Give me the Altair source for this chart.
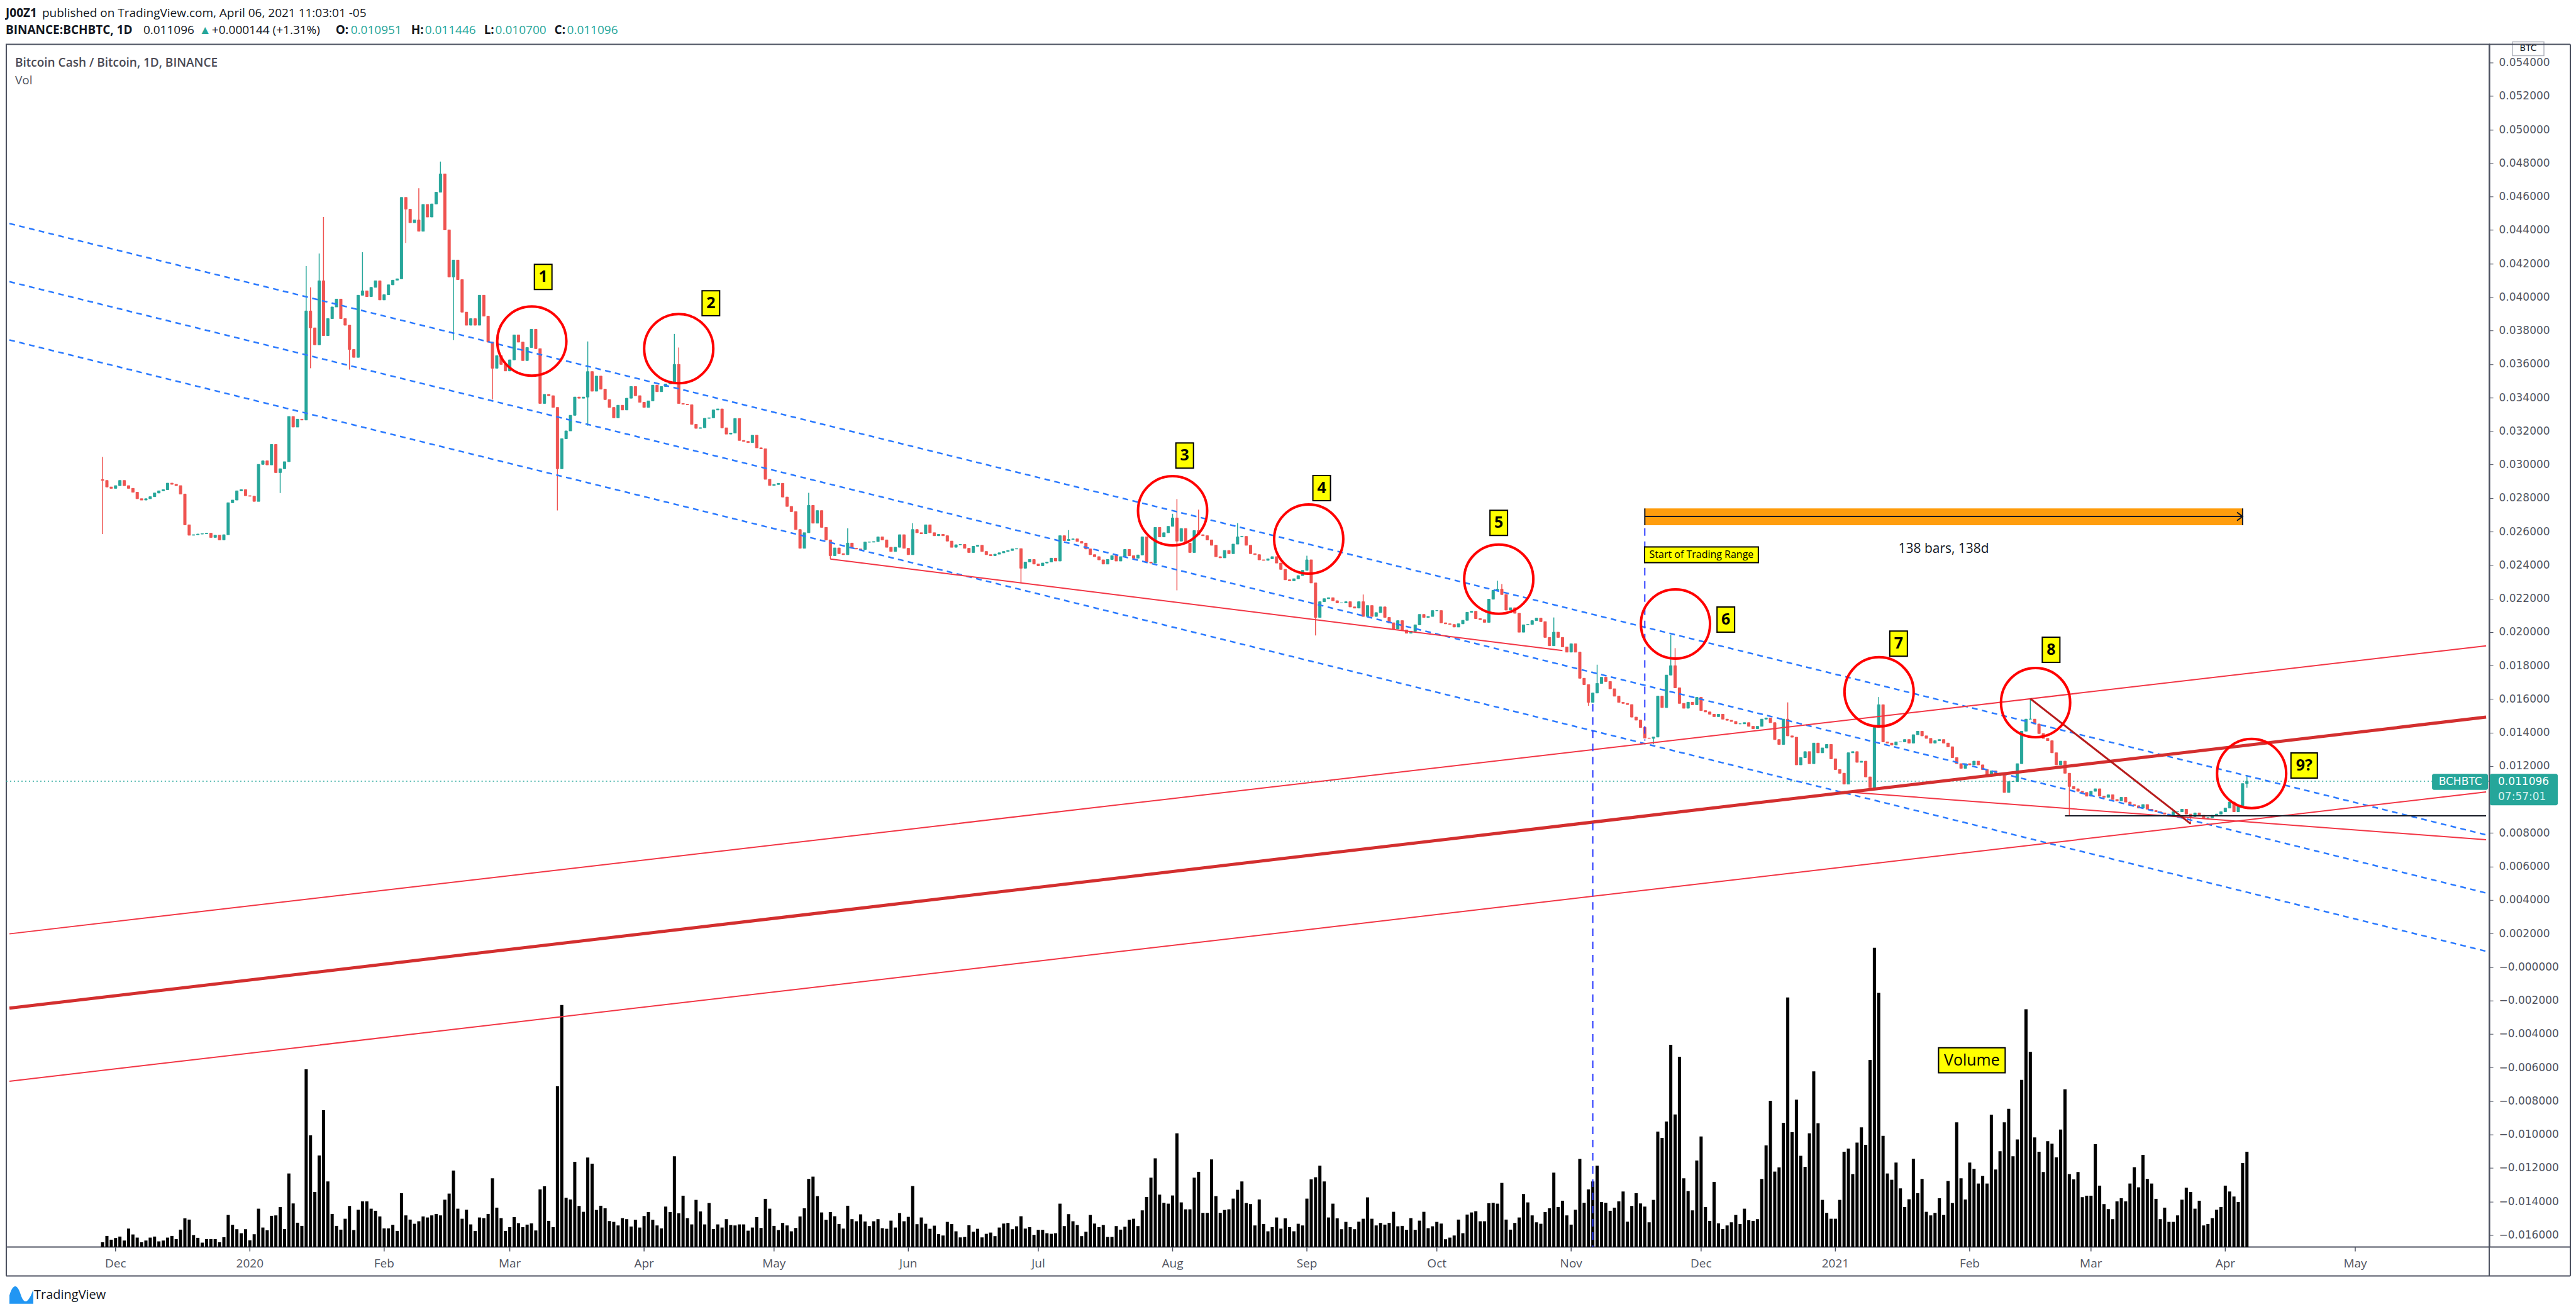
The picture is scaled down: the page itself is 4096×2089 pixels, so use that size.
import altair as alt
import pandas as pd

# ---------------------------------------------------------------- data
FIRST_DAY = "2019-11-28"
first_open = 0.02910

close_dec19 = [0.02905, 0.02866, 0.02858, 0.02874, 0.02905, 0.02874, 0.02858, 0.02835, 0.02796, 0.02788,
               0.02796, 0.02808, 0.02830, 0.02843, 0.02850, 0.02889, 0.02882, 0.02874, 0.02824, 0.02640,
               0.02578, 0.02581, 0.02585, 0.02587, 0.02590, 0.02565, 0.02578, 0.02550, 0.02581, 0.02772,
               0.02788, 0.02843, 0.02850, 0.02814]
close_jan20 = [0.02811, 0.02780, 0.03001, 0.03022, 0.02998, 0.03120, 0.02952, 0.02975, 0.03017, 0.03287,
               0.03224, 0.03271, 0.03266, 0.03917, 0.03816, 0.03715, 0.04097, 0.03770, 0.03871, 0.03941,
               0.03988, 0.03871, 0.03832, 0.03687, 0.03640, 0.04011, 0.04037, 0.04003, 0.04058, 0.04097,
               0.03983]
close_feb20 = [0.04014, 0.04073, 0.04101, 0.04109, 0.04595, 0.04525, 0.04444, 0.04460, 0.04393, 0.04553,
               0.04478, 0.04556, 0.04626, 0.04735, 0.04401, 0.04120, 0.04221, 0.04104, 0.03910, 0.03832,
               0.03871, 0.03832, 0.04011, 0.03886, 0.03731, 0.03575, 0.03650, 0.03598, 0.03559]
close_mar20 = [0.03625, 0.03774, 0.03731, 0.03621, 0.03699, 0.03808, 0.03692, 0.03365, 0.03419, 0.03411,
               0.03341, 0.02975, 0.03154, 0.03201, 0.03294, 0.03403, 0.03396, 0.03403, 0.03555, 0.03438,
               0.03528, 0.03450, 0.03388, 0.03341, 0.03279, 0.03354, 0.03326, 0.03396, 0.03466, 0.03411,
               0.03372]
close_apr20 = [0.03341, 0.03380, 0.03474, 0.03435, 0.03466, 0.03481, 0.03489, 0.03598, 0.03365, 0.03360,
               0.03357, 0.03240, 0.03216, 0.03220, 0.03276, 0.03279, 0.03326, 0.03332, 0.03219, 0.03182,
               0.03188, 0.03275, 0.03144, 0.03138, 0.03131, 0.03175, 0.03100, 0.03094, 0.02912, 0.02875]
close_may20 = [0.02881, 0.02888, 0.02806, 0.02750, 0.02719, 0.02612, 0.02500, 0.02593, 0.02756, 0.02650,
               0.02725, 0.02625, 0.02550, 0.02456, 0.02502, 0.02468, 0.02462, 0.02531, 0.02500, 0.02496,
               0.02493, 0.02537, 0.02537, 0.02540, 0.02568, 0.02550, 0.02506, 0.02481, 0.02506, 0.02581,
               0.02500]
close_jun20 = [0.02462, 0.02612, 0.02593, 0.02587, 0.02640, 0.02593, 0.02575, 0.02583, 0.02575, 0.02543,
               0.02506, 0.02521, 0.02523, 0.02500, 0.02475, 0.02512, 0.02518, 0.02481, 0.02462, 0.02456,
               0.02465, 0.02473, 0.02481, 0.02487, 0.02496, 0.02498, 0.02381, 0.02418, 0.02433, 0.02406]
close_jul20 = [0.02396, 0.02412, 0.02418, 0.02441, 0.02424, 0.02575, 0.02546, 0.02553, 0.02556, 0.02541,
               0.02531, 0.02496, 0.02462, 0.02450, 0.02431, 0.02406, 0.02433, 0.02456, 0.02424, 0.02450,
               0.02493, 0.02456, 0.02441, 0.02460, 0.02568, 0.02418, 0.02412, 0.02625, 0.02568, 0.02593,
               0.02631]
close_aug20 = [0.02681, 0.02543, 0.02618, 0.02531, 0.02475, 0.02606, 0.02581, 0.02575, 0.02550, 0.02518,
               0.02450, 0.02443, 0.02487, 0.02468, 0.02525, 0.02568, 0.02571, 0.02518, 0.02468, 0.02462,
               0.02431, 0.02428, 0.02437, 0.02450, 0.02412, 0.02374, 0.02312, 0.02306, 0.02318, 0.02337,
               0.02368]
close_sep20 = [0.02431, 0.02293, 0.02087, 0.02181, 0.02199, 0.02205, 0.02187, 0.02174, 0.02174, 0.02181,
               0.02150, 0.02143, 0.02181, 0.02093, 0.02158, 0.02093, 0.02116, 0.02150, 0.02087, 0.02055,
               0.02018, 0.02068, 0.02012, 0.01993, 0.02005, 0.02043, 0.02105, 0.02087, 0.02093, 0.02128]
close_oct20 = [0.02128, 0.02055, 0.02049, 0.02045, 0.02030, 0.02049, 0.02070, 0.02118, 0.02124, 0.02080,
               0.02074, 0.02058, 0.02196, 0.02249, 0.02256, 0.02224, 0.02131, 0.02145, 0.02112, 0.01999,
               0.02043, 0.02045, 0.02068, 0.02083, 0.02062, 0.01968, 0.01918, 0.01999, 0.01968, 0.01911,
               0.01880]
close_nov20 = [0.01930, 0.01880, 0.01724, 0.01686, 0.01580, 0.01636, 0.01693, 0.01730, 0.01705, 0.01661,
               0.01617, 0.01580, 0.01574, 0.01567, 0.01492, 0.01474, 0.01430, 0.01367, 0.01365, 0.01373,
               0.01617, 0.01549, 0.01743, 0.01799, 0.01667, 0.01574, 0.01545, 0.01581, 0.01566, 0.01610]
close_dec20 = [0.01531, 0.01523, 0.01509, 0.01495, 0.01509, 0.01480, 0.01473, 0.01466, 0.01452, 0.01452,
               0.01459, 0.01437, 0.01423, 0.01437, 0.01480, 0.01487, 0.01459, 0.01358, 0.01329, 0.01480,
               0.01380, 0.01372, 0.01207, 0.01250, 0.01286, 0.01214, 0.01337, 0.01279, 0.01308, 0.01329,
               0.01243]
close_jan21 = [0.01179, 0.01157, 0.01092, 0.01279, 0.01286, 0.01222, 0.01229, 0.01135, 0.01071, 0.01430,
               0.01566, 0.01344, 0.01337, 0.01325, 0.01344, 0.01344, 0.01358, 0.01337, 0.01387, 0.01408,
               0.01380, 0.01365, 0.01337, 0.01351, 0.01358, 0.01337, 0.01315, 0.01250, 0.01214, 0.01186,
               0.01214]
close_feb21 = [0.01207, 0.01229, 0.01207, 0.01179, 0.01143, 0.01171, 0.01143, 0.01157, 0.01042, 0.01107,
               0.01107, 0.01214, 0.01408, 0.01480, 0.01480, 0.01451, 0.01394, 0.01365, 0.01351, 0.01279,
               0.01207, 0.01229, 0.01157, 0.01078, 0.01064, 0.01049, 0.01042, 0.01020]
close_mar21 = [0.01049, 0.01064, 0.01020, 0.01013, 0.01028, 0.01000, 0.00992, 0.01013, 0.00985, 0.00970,
               0.00963, 0.00949, 0.00970, 0.00942, 0.00934, 0.00927, 0.00920, 0.00913, 0.00906, 0.00927,
               0.00927, 0.00942, 0.00913, 0.00898, 0.00920, 0.00906, 0.00891, 0.00891, 0.00906, 0.00913,
               0.00927]
close_apr21 = [0.00949, 0.00985, 0.00927, 0.00963, 0.01095, 0.011096]

closes = (close_dec19 + close_jan20 + close_feb20 + close_mar20 + close_apr20 + close_may20 +
          close_jun20 + close_jul20 + close_aug20 + close_sep20 + close_oct20 + close_nov20 +
          close_dec20 + close_jan21 + close_feb21 + close_mar21 + close_apr21)

# wick extremes (bar index -> price); other bars show no visible wick
high_wicks = {0: 0.03045, 47: 0.04185, 48: 0.04058, 50: 0.04260, 51: 0.04478, 60: 0.04268,
              73: 0.04650, 78: 0.04809, 112: 0.03735, 132: 0.03780, 133: 0.03699, 163: 0.02831,
              172: 0.02619, 187: 0.02650, 223: 0.02609, 247: 0.02706, 248: 0.02794, 253: 0.02731,
              262: 0.02650, 278: 0.02456, 291: 0.02224, 322: 0.02306, 323: 0.02287, 335: 0.02087,
              345: 0.01805, 362: 0.01983, 363: 0.01904, 389: 0.01580, 410: 0.01612, 445: 0.01598,
              495: 0.011446}
low_wicks = {0: 0.02585, 41: 0.02830, 48: 0.03575, 57: 0.03567, 70: 0.04323, 81: 0.03743,
             90: 0.03388, 105: 0.02726, 112: 0.03232, 168: 0.02436, 212: 0.02291, 248: 0.02249,
             280: 0.01980, 343: 0.01560, 358: 0.01330, 454: 0.00906, 482: 0.00855, 495: 0.010700}

vol_a = [23, 53, 35, 43, 50, 31, 88, 60, 45, 23, 31, 45, 50, 27, 31, 45, 53, 38, 83, 137,
         131, 57, 44, 21, 38, 38, 38, 23, 47, 153, 106, 85, 66, 85, 32, 61, 183, 93, 80, 149,
         151, 191, 86, 351, 208, 116, 101, 848, 533, 263, 437, 653, 313, 158, 101, 83, 135, 196, 81, 178,
         218, 218, 183, 173, 146, 89, 89, 106, 77, 257, 151, 131, 111, 123, 146, 141, 151, 158, 151, 226,
         255, 365, 183, 135, 178, 108, 77, 141, 138, 158, 328, 188, 138, 77, 95, 143, 114, 95, 107, 113]
vol_b = [79, 275, 290, 125, 95, 767, 1155, 235, 227, 407, 196, 168, 427, 398, 177, 197, 185, 124, 120, 103,
         138, 133, 98, 130, 93, 148, 167, 130, 103, 89, 193, 167, 433, 161, 245, 138, 108, 225, 170, 108,
         210, 86, 108, 93, 133, 105, 103, 108, 108, 78, 93, 143, 91, 230, 183, 101, 81, 115, 103, 75,
         91, 146, 185, 325, 336, 243, 165, 130, 167, 147, 110, 88, 197, 133, 123, 156, 122, 100, 123, 133,
         90, 87, 126, 93, 162, 123, 144, 291, 109, 141, 111, 87, 102, 62, 55, 120, 110, 75, 46, 48]
vol_c = [104, 73, 87, 46, 63, 69, 52, 93, 112, 115, 85, 99, 147, 88, 95, 58, 82, 82, 66, 63,
         66, 207, 100, 157, 123, 105, 52, 73, 153, 112, 95, 105, 48, 48, 100, 83, 97, 130, 135, 100,
         175, 239, 331, 423, 250, 211, 207, 246, 543, 213, 180, 180, 331, 359, 163, 163, 418, 243, 163, 177,
         180, 231, 273, 313, 210, 205, 103, 227, 110, 75, 95, 141, 88, 137, 95, 75, 111, 103, 231, 323,
         333, 388, 313, 141, 207, 137, 85, 120, 95, 85, 121, 135, 237, 135, 103, 115, 107, 115, 168, 99]
vol_d = [101, 82, 138, 82, 126, 168, 90, 99, 120, 112, 37, 45, 55, 131, 66, 155, 165, 171, 123, 123,
         209, 211, 207, 306, 131, 83, 115, 141, 253, 213, 151, 118, 111, 167, 185, 355, 191, 221, 151, 107,
         178, 420, 211, 275, 313, 388, 215, 211, 173, 188, 218, 265, 121, 196, 257, 208, 193, 118, 225, 551,
         521, 599, 965, 633, 908, 328, 267, 175, 413, 528, 191, 125, 311, 113, 86, 103, 118, 153, 110, 183,
         128, 125, 133, 325, 485, 698, 360, 380, 593, 1191, 548, 703, 435, 383, 543, 838, 591, 225, 163, 135]
vol_e = [135, 225, 455, 470, 348, 498, 571, 488, 893, 1428, 1213, 531, 351, 321, 403, 280, 191, 228, 421, 257,
         325, 168, 151, 163, 233, 153, 315, 210, 595, 328, 227, 403, 373, 303, 339, 303, 631, 370, 457, 595,
         660, 433, 513, 798, 1135, 931, 523, 455, 358, 505, 493, 428, 561, 753, 348, 323, 358, 238, 245, 245,
         491, 293, 205, 181, 133, 218, 233, 218, 303, 381, 285, 440, 325, 303, 230, 133, 188, 120, 120, 151,
         226, 283, 263, 183, 221, 103, 110, 138, 178, 191, 293, 265, 241, 215, 401, 455]
volumes = vol_a + vol_b + vol_c + vol_d + vol_e

price_ticks = [-0.016, -0.014, -0.012, -0.010, -0.008, -0.006, -0.004, -0.002, 0.0,
               0.002, 0.004, 0.006, 0.008, 0.010, 0.012, 0.014, 0.016, 0.018, 0.020,
               0.022, 0.024, 0.026, 0.028, 0.030, 0.032, 0.034, 0.036, 0.038, 0.040,
               0.042, 0.044, 0.046, 0.048, 0.050, 0.052, 0.054]
month_dates = ["2019-12-01", "2020-01-01", "2020-02-01", "2020-03-01", "2020-04-01", "2020-05-01",
               "2020-06-01", "2020-07-01", "2020-08-01", "2020-09-01", "2020-10-01", "2020-11-01",
               "2020-12-01", "2021-01-01", "2021-02-01", "2021-03-01", "2021-04-01", "2021-05-01"]
month_labels = ["Dec", "2020", "Feb", "Mar", "Apr", "May", "Jun", "Jul", "Aug", "Sep", "Oct", "Nov",
                "Dec", "2021", "Feb", "Mar", "Apr", "May"]

# drawings (date, price) endpoints
EDGE_L = "2019-11-06T12:00:00Z"
EDGE_R = "2021-05-31T05:00:00Z"
channel_ids = ["top", "mid", "low"]
channel_left = [0.04439, 0.04092, 0.03744]
channel_right = [0.00789, 0.00442, 0.00094]

thin_ids = ["A", "A", "B", "B", "D", "D", "E", "E"]
thin_dates = ["2020-05-14", "2020-10-30", "2021-01-03", EDGE_R, EDGE_L, EDGE_R, EDGE_L, EDGE_R]
thin_prices = [0.02436, 0.01889, 0.01046, 0.00760, 0.00198, 0.01918, -0.00682, 0.01045]
thick_dates = [EDGE_L, EDGE_R]
thick_prices = [-0.00246, 0.01492]
steep_dates = ["2021-02-15", "2021-03-24"]
steep_prices = [0.01602, 0.00855]
support_dates = ["2021-02-23", EDGE_R]
support_prices = [0.00903, 0.00903]

vline_dates = ["2020-11-06", "2020-11-18"]
vline_top = [0.01570, 0.02620]
vline_bottom = [-0.01672, 0.01351]

range_start, range_end = "2020-11-18", "2021-04-05"
range_top, range_bottom, range_mid = 0.02738, 0.02638, 0.02690
arrow_dates = ["2021-04-03T17:00:00Z", "2021-04-05", "2021-04-03T17:00:00Z"]
arrow_prices = [0.02715, 0.02690, 0.02665]

circle_dates = ["2020-03-06T02:00:00Z", "2020-04-09", "2020-08-01", "2020-09-01T10:00:00Z",
                "2020-10-15T07:00:00Z", "2020-11-25T02:00:00Z", "2021-01-11T02:00:00Z",
                "2021-02-16T05:00:00Z", "2021-04-07T02:00:00Z"]
circle_prices = [0.03737, 0.03692, 0.02724, 0.02555, 0.02316, 0.02048, 0.01643, 0.01579, 0.01155]

label_texts = ["1", "2", "3", "4", "5", "6", "7", "8", "9?"]
label_dates = ["2020-03-08T17:00:00Z", "2020-04-16T10:00:00Z", "2020-08-03T19:00:00Z",
               "2020-09-04T10:00:00Z", "2020-10-15T07:00:00Z", "2020-12-06T17:00:00Z",
               "2021-01-15T14:00:00Z", "2021-02-19T19:00:00Z", "2021-04-19T05:00:00Z"]
label_prices = [0.04120, 0.03963, 0.03054, 0.02859, 0.02652, 0.02074, 0.01931, 0.01894, 0.01203]

last_price = 0.011096

# ---------------------------------------------------------------- frame
W, H = 3950, 1913
AX = 129            # width of the price-axis strip
TA = 46             # height of the time-axis strip
Y_DOM = [-0.01672, 0.05509]
VOL_DOM = [0, 5739]
UP, DOWN = "#26A69A", "#EF5350"
FRAME = "#4C5160"
TXT = "#50535E"
INK = "#131722"

xs = alt.Scale(type="utc", domain=[alt.DateTime(year=2019, month=11, date=6, hours=12, utc=True),
                                   alt.DateTime(year=2021, month=5, date=31, hours=5, utc=True)])
ys = alt.Scale(domain=Y_DOM, nice=False, zero=False)

dates = pd.date_range(FIRST_DAY, periods=len(closes), freq="D").strftime("%Y-%m-%d").tolist()
opens = [first_open] + closes[:-1]
highs = [high_wicks.get(i, max(o, c)) for i, (o, c) in enumerate(zip(opens, closes))]
lows = [low_wicks.get(i, min(o, c)) for i, (o, c) in enumerate(zip(opens, closes))]
candles = pd.DataFrame({"date": dates, "open": opens, "close": closes,
                        "high": highs, "low": lows, "vol": volumes})

X = lambda f="date": alt.X(f"{f}:T", scale=xs, axis=None, title=None)
Y = lambda f="price": alt.Y(f"{f}:Q", scale=ys, axis=None, title=None)

y_axis = alt.Axis(orient="right", values=price_ticks,
                  labelExpr="abs(datum.value) < 1e-9 ? '\u22120.000000' : format(datum.value, '.6f')",
                  grid=False, domain=True, domainColor=FRAME, domainWidth=2, tickColor=FRAME,
                  tickSize=6, labelColor=TXT, labelFont="DejaVu Sans", labelFontSize=17,
                  labelPadding=9, title=None)

candle_color = alt.condition("datum.close >= datum.open", alt.value(UP), alt.value(DOWN))
base = alt.Chart(candles)

volume = base.mark_bar(width=5, color="#000000").encode(
    x=X(), y=alt.Y("vol:Q", scale=alt.Scale(domain=VOL_DOM, nice=False), axis=None, title=None))

price_line = alt.Chart(pd.DataFrame({"price": [last_price]})).mark_rule(
    color=UP, strokeDash=[2, 4], strokeWidth=1.5).encode(y=Y())

wicks = base.mark_rule(strokeWidth=1.5).encode(
    x=X(), y=alt.Y("low:Q", scale=ys, axis=y_axis, title=None), y2="high:Q", color=candle_color)
bodies = base.mark_bar(width=4, strokeWidth=1).encode(
    x=X(), y=Y("open"), y2="close:Q", color=candle_color, stroke=candle_color)

# time scale: ticks and month labels placed through the x scale
months = pd.DataFrame({"date": month_dates, "t": month_labels})
time_ticks = alt.Chart(months).mark_rule(color=FRAME, strokeWidth=1.5).encode(
    x=X(), y=alt.value(H), y2=alt.value(H + 7))
time_labels = alt.Chart(months).mark_text(font="Open Sans", fontSize=19, color=TXT,
                                          baseline="middle").encode(x=X(), y=alt.value(H + 26), text="t:N")

channel_df = pd.DataFrame({"id": channel_ids * 2,
                           "date": [EDGE_L] * 3 + [EDGE_R] * 3,
                           "price": channel_left + channel_right})
channels = alt.Chart(channel_df).mark_line(color="#2979FF", strokeDash=[9, 7], strokeWidth=2.5,
                                            clip=True).encode(x=X(), y=Y(), detail="id:N")

thin = alt.Chart(pd.DataFrame({"id": thin_ids, "date": thin_dates, "price": thin_prices})).mark_line(
    color="#F23645", strokeWidth=2, clip=True).encode(x=X(), y=Y(), detail="id:N")
thick = alt.Chart(pd.DataFrame({"date": thick_dates, "price": thick_prices})).mark_line(
    color="#D32F2F", strokeWidth=5, clip=True).encode(x=X(), y=Y())
steep = alt.Chart(pd.DataFrame({"date": steep_dates, "price": steep_prices})).mark_line(
    color="#B71C1C", strokeWidth=3, clip=True).encode(x=X(), y=Y())
support = alt.Chart(pd.DataFrame({"date": support_dates, "price": support_prices})).mark_line(
    color=INK, strokeWidth=2, clip=True).encode(x=X(), y=Y())

vlines = alt.Chart(pd.DataFrame({"date": vline_dates, "p1": vline_top, "p2": vline_bottom})).mark_rule(
    color="#2A3BFF", strokeDash=[12, 9], strokeWidth=2, clip=True).encode(x=X(), y=Y("p1"), y2="p2:Q")

range_df = pd.DataFrame({"d1": [range_start], "d2": [range_end], "p1": [range_top], "p2": [range_bottom],
                         "pm": [range_mid]})
range_box = alt.Chart(range_df).mark_rect(color="#FF9800", opacity=0.95).encode(
    x=X("d1"), x2="d2:T", y=Y("p1"), y2="p2:Q")
range_axis = alt.Chart(range_df).mark_rule(color=INK, strokeWidth=2).encode(x=X("d1"), x2="d2:T", y=Y("pm"))
range_caps = alt.Chart(pd.DataFrame({"date": [range_start, range_end], "p1": [range_top] * 2,
                                     "p2": [range_bottom] * 2})).mark_rule(color=INK, strokeWidth=2).encode(
    x=X(), y=Y("p1"), y2="p2:Q")
arrow = alt.Chart(pd.DataFrame({"date": arrow_dates, "price": arrow_prices, "o": [0, 1, 2]})).mark_line(
    color=INK, strokeWidth=2).encode(x=X(), y=Y(), order="o:Q")
range_text = alt.Chart(pd.DataFrame({"t": ["138 bars, 138d"], "date": ["2021-01-26"], "price": [0.02494]})).mark_text(
    font="Open Sans", fontSize=21, color=INK).encode(x=X(), y=Y(), text="t:N")

circles = alt.Chart(pd.DataFrame({"date": circle_dates, "price": circle_prices})).mark_point(
    shape="circle", size=12100, filled=False, color="#FF0000", strokeWidth=4, opacity=1).encode(x=X(), y=Y())

NARROW = "M-0.7,-1L0.7,-1L0.7,1L-0.7,1Z"
WIDE = "M-1.05,-1L1.05,-1L1.05,1L-1.05,1Z"
lab_df = pd.DataFrame({"t": label_texts, "date": label_dates, "price": label_prices,
                       "box": [NARROW] * 8 + [WIDE]})
lab_boxes = alt.Chart(lab_df).mark_point(size=1600, filled=True, fill="#FFFF00", stroke="#000000",
                                         strokeWidth=2, opacity=1).encode(
    x=X(), y=Y(), shape=alt.Shape("box:N", scale=None, legend=None))
lab_text = alt.Chart(lab_df).mark_text(font="Open Sans", fontSize=25, fontWeight="bold", color="#000000").encode(
    x=X(), y=Y(), text="t:N")

start_df = pd.DataFrame({"t": ["Start of Trading Range"], "date": ["2020-12-01T02:00:00Z"], "price": [0.02461]})
start_box = alt.Chart(start_df).mark_point(shape="M-1,-0.138L1,-0.138L1,0.138L-1,0.138Z", size=32761,
                                           filled=True, fill="#FFFF00", stroke="#000000", strokeWidth=2,
                                           opacity=1).encode(x=X(), y=Y())
start_text = alt.Chart(start_df).mark_text(font="Open Sans", fontSize=16, color="#000000").encode(
    x=X(), y=Y(), text="t:N")
vol_df = pd.DataFrame({"t": ["Volume"], "date": ["2021-02-01T12:00:00Z"], "price": [-0.00557]})
vol_box = alt.Chart(vol_df).mark_point(shape="M-1,-0.377L1,-0.377L1,0.377L-1,0.377Z", size=11236,
                                       filled=True, fill="#FFFF00", stroke="#000000", strokeWidth=2,
                                       opacity=1).encode(x=X(), y=Y())
vol_text = alt.Chart(vol_df).mark_text(font="Open Sans", fontSize=25, color="#000000").encode(
    x=X(), y=Y(), text="t:N")

# last-price tags on the price scale
tag_df = pd.DataFrame({"p1": [last_price + 0.00044], "p2": [last_price - 0.00144],
                       "q1": [last_price + 0.00044], "q2": [last_price - 0.00052]})
tag_box = alt.Chart(tag_df).mark_rect(color=UP, cornerRadius=3).encode(
    x=alt.value(W + 1), x2=alt.value(W + 109), y=Y("p1"), y2="p2:Q")
sym_box = alt.Chart(tag_df).mark_rect(color=UP, cornerRadius=3).encode(
    x=alt.value(W - 91), x2=alt.value(W - 2), y=Y("q1"), y2="q2:Q")
tag_texts = pd.DataFrame({"t": ["0.011096", "07:57:01", "BCHBTC"],
                          "price": [last_price - 0.00004, last_price - 0.00096, last_price - 0.00004]})
tag_t1 = alt.Chart(tag_texts.iloc[[0]]).mark_text(font="DejaVu Sans", fontSize=17, color="#FFFFFF",
                                                  align="left").encode(x=alt.value(W + 14), y=Y(), text="t:N")
tag_t2 = alt.Chart(tag_texts.iloc[[1]]).mark_text(font="DejaVu Sans", fontSize=17, color="#D8F1EE",
                                                  align="left").encode(x=alt.value(W + 14), y=Y(), text="t:N")
tag_t3 = alt.Chart(tag_texts.iloc[[2]]).mark_text(font="DejaVu Sans", fontSize=17, color="#FFFFFF").encode(
    x=alt.value(W - 46), y=Y(), text="t:N")


def ptext(t, x, y, **kw):
    return alt.Chart(pd.DataFrame({"t": [t]})).mark_text(baseline="middle", **kw).encode(
        x=alt.value(x), y=alt.value(y), text="t:N")


def prule(x, y, x2=None, y2=None, color=FRAME, width=2):
    enc = {"x": alt.value(x), "y": alt.value(y)}
    if x2 is not None:
        enc["x2"] = alt.value(x2)
    if y2 is not None:
        enc["y2"] = alt.value(y2)
    return alt.Chart(pd.DataFrame({"k": [0]})).mark_rule(color=color, strokeWidth=width).encode(**enc)


# header (two lines above the frame)
hdr_bold = [("J00Z1", -1, -49, INK), ("BINANCE:BCHBTC, 1D", -1, -22, INK), ("O:", 524, -22, INK),
            ("H:", 644, -22, INK), ("L:", 760, -22, INK), ("C:", 872, -22, INK)]
hdr_norm = [("published on TradingView.com, April 06, 2021 11:03:01 -05", 57, -49, INK),
            ("0.011096", 218, -22, INK), ("\u25b2", 307, -22, UP), ("+0.000144 (+1.31%)", 327, -22, INK),
            ("0.010951", 548, -22, UP), ("0.011446", 666, -22, UP), ("0.010700", 778, -22, UP),
            ("0.011096", 892, -22, UP)]
header = [ptext(t, x, y, font="Open Sans", fontSize=19, fontWeight="bold", color=c, align="left")
          for t, x, y, c in hdr_bold]
header += [ptext(t, x, y, font="Open Sans", fontSize=19, color=c, align="left") for t, x, y, c in hdr_norm]

legend_txt = [ptext("Bitcoin Cash / Bitcoin, 1D, BINANCE", 14, 30, font="Open Sans", fontSize=19,
                    fontWeight=600, color="#4A4A55", align="left"),
              ptext("Vol", 14, 58, font="Open Sans", fontSize=19, color=TXT, align="left")]

btc_box = alt.Chart(pd.DataFrame({"k": [0]})).mark_point(
    shape="M-1,-0.44L1,-0.44L1,0.44L-1,0.44Z", size=2500, filled=True, fill="#FFFFFF",
    stroke="#B2B5BE", strokeWidth=1.5, opacity=1).encode(x=alt.value(W + 62), y=alt.value(7))
btc_txt = ptext("BTC", W + 62, 7, font="DejaVu Sans", fontSize=14, color=INK)

logo = alt.Chart(pd.DataFrame({"k": [0]})).mark_point(
    shape="M-1,0.8L-1,0.1C-0.7,-0.9 -0.35,-0.9 -0.05,0.05C0.25,0.95 0.6,0.7 1,-0.4L1,0.8Z",
    size=1444, filled=True, fill="#2196F3", opacity=1).encode(x=alt.value(24), y=alt.value(1988))
logo_txt = ptext("TradingView", 44, 1990, font="Open Sans", fontSize=20, color=INK, align="left")

frame = [prule(W, 0, x2=W + AX), prule(W + AX, 0, y2=H + TA), prule(0, H + TA, x2=W + AX),
         prule(0, H, y2=H + TA), prule(W, H, y2=H + TA), prule(W, H, x2=W + AX)]

layers = ([volume, price_line, wicks, bodies, time_ticks, time_labels, channels, thin, thick, steep,
           support, vlines, range_box, range_axis, range_caps, arrow, range_text, circles, lab_boxes,
           lab_text, start_box, start_text, vol_box, vol_text, sym_box, tag_box, tag_t1, tag_t2, tag_t3,
           btc_box, btc_txt, logo, logo_txt] + header + legend_txt + frame)

chart = alt.layer(*layers).resolve_scale(y="independent").properties(
    width=W, height=H,
    padding={"left": 2, "top": 62, "right": 130, "bottom": 98},
    autosize=alt.AutoSizeParams(type="none"),
    background="#FFFFFF",
).configure_view(stroke=FRAME, strokeWidth=2)

chart.save("out.html", embed_options={"renderer": "svg", "actions": False})
